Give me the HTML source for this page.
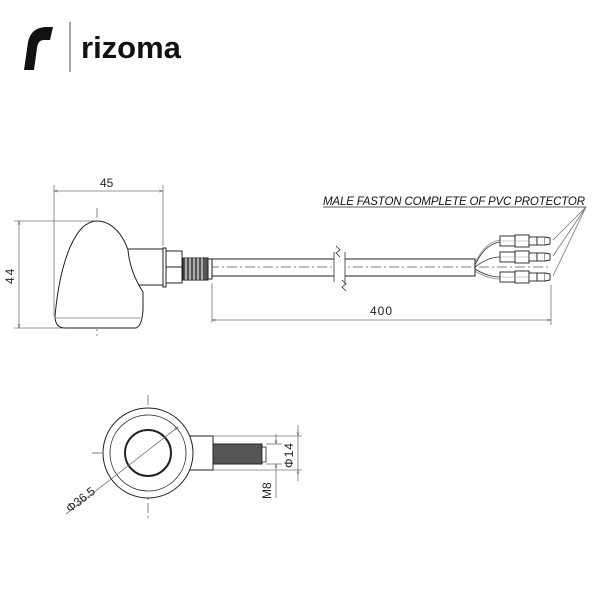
<!DOCTYPE html>
<html><head><meta charset="utf-8"><style>body{margin:0;background:#fff}svg{display:block}</style></head><body>
<svg width="600" height="600" viewBox="0 0 600 600" xmlns="http://www.w3.org/2000/svg" font-family="Liberation Sans, sans-serif">
<defs>
<marker id="a" viewBox="0 0 10 10" refX="10" refY="5" markerWidth="7" markerHeight="5" orient="auto-start-reverse"><path d="M0,2 L10,5 L0,8" fill="none" stroke="#555" stroke-width="1"/></marker>
<g id="c" stroke="#222" stroke-width="0.9" fill="#fff"><rect x="500" y="-5" width="15" height="10"/><rect x="515" y="-6" width="14" height="12"/><rect x="529" y="-4" width="8" height="8"/><rect x="537" y="-4" width="8" height="8"/><path d="M545,-4 L550,-3 L550,3 L545,4"/><line x1="500" y1="0" x2="529" y2="0" stroke="#999" stroke-width="0.6"/></g>
</defs>
<path d="M24,70 L28,42 Q31,28 45,27 L53,27 L50,40 L44,40 Q38,40 37,48 L34,70 Z" fill="#111"/>
<line x1="70" y1="22" x2="70" y2="72" stroke="#888" stroke-width="1.5"/>
<text x="81" y="58" font-size="31" font-weight="bold" fill="#111">rizoma</text>

<g stroke="#777" stroke-width="0.8" fill="none">
<line x1="54" y1="185" x2="54" y2="316"/><line x1="163" y1="185" x2="163" y2="246"/>
<line x1="54" y1="191" x2="163" y2="191" marker-start="url(#a)" marker-end="url(#a)"/>
<line x1="14" y1="221" x2="97" y2="221"/><line x1="14" y1="328" x2="125" y2="328"/>
<line x1="19" y1="221" x2="19" y2="328" marker-start="url(#a)" marker-end="url(#a)"/>
<line x1="212" y1="283" x2="212" y2="323"/><line x1="551" y1="285" x2="551" y2="325"/>
<line x1="212" y1="320" x2="551" y2="320" marker-start="url(#a)" marker-end="url(#a)"/>
<line x1="323" y1="207" x2="586" y2="207" stroke="#222"/>
<line x1="586" y1="207" x2="553" y2="240"/><line x1="586" y1="207" x2="553" y2="256"/><line x1="586" y1="207" x2="553" y2="276"/>
</g>
<g stroke="#555" stroke-width="0.7" stroke-dasharray="10,3,2,3" fill="none">
<line x1="97" y1="208" x2="97" y2="336"/><line x1="155" y1="267" x2="548" y2="267"/>
<line x1="92" y1="453" x2="212" y2="453"/><line x1="148" y1="395" x2="148" y2="520"/>
</g>
<g stroke="#222" stroke-width="1" fill="#fff">
<rect x="128" y="249" width="35" height="36"/>
<path d="M97,221 C75,221 60,262 55,316 Q55,328 65,328 L136,328 Q142,326 143,310 L143,292 Q130,272 128,250 C122,232 110,221 97,221 Z"/>
<line x1="56" y1="318" x2="142" y2="318" stroke="#999"/>
<rect x="163" y="248" width="3" height="39"/>
<rect x="166" y="251" width="16" height="32"/>
<line x1="166" y1="267" x2="182" y2="267"/>
<rect x="183" y="258" width="25" height="22" fill="#555"/>
<rect x="208" y="259" width="4" height="20"/>
<rect x="212" y="259" width="263" height="17" fill="none"/>
</g>
<g stroke="#fff" stroke-width="1"><line x1="186" y1="258" x2="186" y2="280"/><line x1="190" y1="258" x2="190" y2="280"/><line x1="194" y1="258" x2="194" y2="280"/><line x1="198" y1="258" x2="198" y2="280"/><line x1="202" y1="258" x2="202" y2="280"/></g>
<rect x="334" y="252" width="11" height="32" fill="#fff"/>
<g stroke="#333" stroke-width="0.8" fill="none">
<path d="M334,252 L334,282 M345,252 L345,284"/>
<path d="M336,246 L340,250 L336,253 L340,257"/><path d="M342,280 L346,284 L342,287 L346,291"/>
<path d="M475,265 Q485,244 500,242"/><path d="M475,267 Q488,257 500,257"/><path d="M475,269 Q488,277 500,277"/>
<path d="M475,263 Q485,242 500,240" stroke="#888"/><path d="M475,271 Q488,279 500,279" stroke="#888"/>
</g>
<use href="#c" y="241"/><use href="#c" y="257"/><use href="#c" y="277"/>
<text x="323" y="205" font-size="11.5" font-style="italic" fill="#111" textLength="262">MALE FASTON COMPLETE OF PVC PROTECTOR</text>
<text x="100" y="187" font-size="12" fill="#222">45</text>
<text x="370" y="315" font-size="12" fill="#222" letter-spacing="1">400</text>
<text transform="translate(14,284) rotate(-90)" font-size="12" fill="#222" letter-spacing="2">44</text>

<g stroke="#222" fill="none">
<rect x="188" y="436" width="25" height="34" fill="#fff" stroke-width="1"/>
<circle cx="148" cy="453" r="45" fill="#fff" stroke-width="1"/>
<circle cx="148" cy="453" r="38" stroke-width="0.8"/>
<circle cx="148" cy="453" r="23" stroke-width="2"/>
<rect x="213" y="444" width="49" height="20" fill="#555" stroke-width="1"/>
<rect x="262" y="447" width="4" height="15" fill="#fff" stroke-width="0.8"/>
</g>
<g stroke="#777" stroke-width="0.8" fill="none">
<line x1="66" y1="514" x2="178" y2="427" marker-end="url(#a)"/>
<line x1="213" y1="436" x2="302" y2="436"/><line x1="213" y1="470" x2="302" y2="470"/>
<line x1="298" y1="425" x2="298" y2="436" marker-end="url(#a)"/><line x1="298" y1="481" x2="298" y2="470" marker-end="url(#a)"/>
<line x1="298" y1="436" x2="298" y2="470"/>
<line x1="266" y1="444" x2="282" y2="444"/><line x1="266" y1="464" x2="282" y2="464"/>
<line x1="276" y1="434" x2="276" y2="444" marker-end="url(#a)"/><line x1="276" y1="498" x2="276" y2="464" marker-end="url(#a)"/>
</g>
<text transform="translate(293,468) rotate(-90)" font-size="12" fill="#222" letter-spacing="1">Φ14</text>
<text transform="translate(271,499) rotate(-90)" font-size="12" fill="#222">M8</text>
<text transform="translate(70,513) rotate(-38)" font-size="12" fill="#222">Φ36.5</text>
</svg>
</body></html>
